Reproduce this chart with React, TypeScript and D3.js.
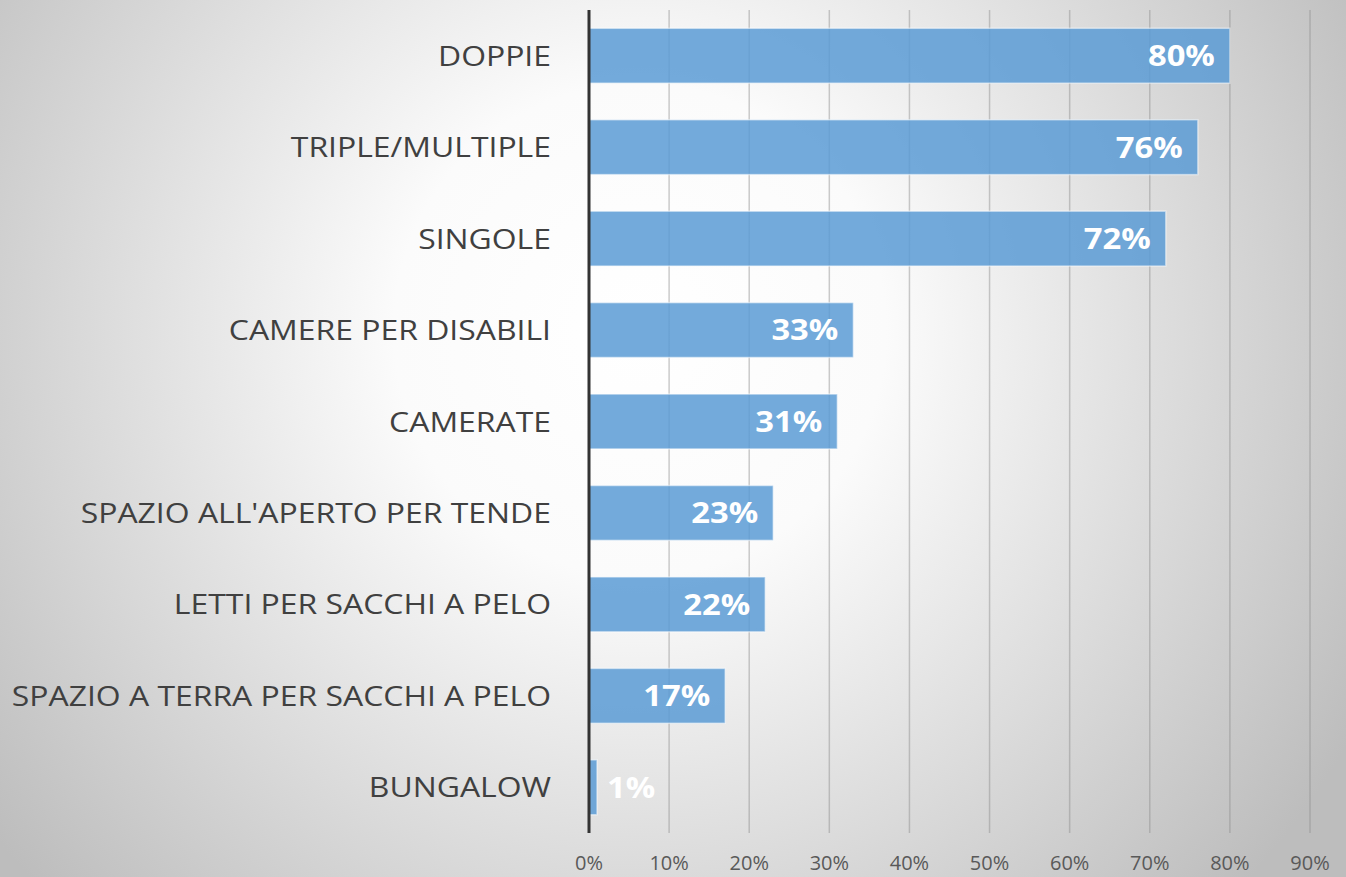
import React from "react";
import * as d3 from "d3";

const categories = [
  "DOPPIE",
  "TRIPLE/MULTIPLE",
  "SINGOLE",
  "CAMERE PER DISABILI",
  "CAMERATE",
  "SPAZIO ALL'APERTO PER TENDE",
  "LETTI PER SACCHI A PELO",
  "SPAZIO A TERRA PER SACCHI A PELO",
  "BUNGALOW",
];
const values = [0.8, 0.76, 0.72, 0.33, 0.31, 0.23, 0.22, 0.17, 0.01];
const ticks = [0, 0.1, 0.2, 0.3, 0.4, 0.5, 0.6, 0.7, 0.8, 0.9];

const W = 1346;
const H = 877;

const App: React.FC = () => {
  const x = d3.scaleLinear().domain([0, 0.9]).range([589, 1310]);
  const y = d3
    .scaleBand<string>()
    .domain(categories)
    .range([10, 833])
    .paddingInner(0.4)
    .paddingOuter(0.2);
  const fmt = d3.format(".0%");
  const font = "'Open Sans', 'DejaVu Sans', sans-serif";
  const mid = (c: string) => (y(c) as number) + y.bandwidth() / 2;

  return (
    <svg width={W} height={H} style={{ position: "absolute", left: 0, top: 0 }}>
      <defs>
        <radialGradient id="bg" cx="640" cy="330" r="820" gradientUnits="userSpaceOnUse">
          <stop offset="0" stopColor="#ffffff" />
          <stop offset="0.3" stopColor="#fbfbfb" />
          <stop offset="1" stopColor="#bdbdbd" />
        </radialGradient>
      </defs>
      <rect x={0} y={0} width={W} height={H} fill="url(#bg)" />

      {/* gridlines */}
      {ticks.slice(1).map((t) => (
        <line
          key={t}
          x1={x(t)}
          x2={x(t)}
          y1={10}
          y2={833}
          stroke="#8c8c8c"
          strokeOpacity={0.45}
          strokeWidth={1.5}
        />
      ))}

      {/* bars */}
      {categories.map((c, i) => (
        <rect
          key={c}
          x={x(0)}
          y={y(c)}
          width={x(values[i]) - x(0)}
          height={y.bandwidth()}
          fill="#5b9bd5"
          fillOpacity={0.85}
          stroke="#ffffff"
          strokeOpacity={0.5}
          strokeWidth={1.5}
        />
      ))}

      {/* value labels */}
      {categories.map((c, i) => {
        const small = x(values[i]) - x(0) < 60;
        const lx = small ? x(values[i]) + 10 : x(values[i]) - 15;
        return (
          <text
            key={c}
            transform={`translate(${lx},${mid(c)}) scale(1.13,1)`}
            dy="0.36em"
            textAnchor={small ? "start" : "end"}
            fill="#ffffff"
            fontFamily={font}
            fontWeight="bold"
            fontSize={29}
          >
            {fmt(values[i])}
          </text>
        );
      })}

      {/* category labels */}
      {categories.map((c) => (
        <text
          key={c}
          transform={`translate(551,${mid(c)}) scale(1.14,1)`}
          dy="0.36em"
          textAnchor="end"
          fill="#404040"
          fontFamily={font}
          fontSize={28}
        >
          {c}
        </text>
      ))}

      {/* axis line */}
      <line x1={x(0)} x2={x(0)} y1={10} y2={833} stroke="#333333" strokeWidth={3} />

      {/* tick labels */}
      {ticks.map((t) => (
        <text
          key={t}
          x={x(t)}
          y={870}
          textAnchor="middle"
          fill="#595959"
          fontFamily={font}
          fontSize={20}
        >
          {fmt(t)}
        </text>
      ))}
    </svg>
  );
};

export default App;
